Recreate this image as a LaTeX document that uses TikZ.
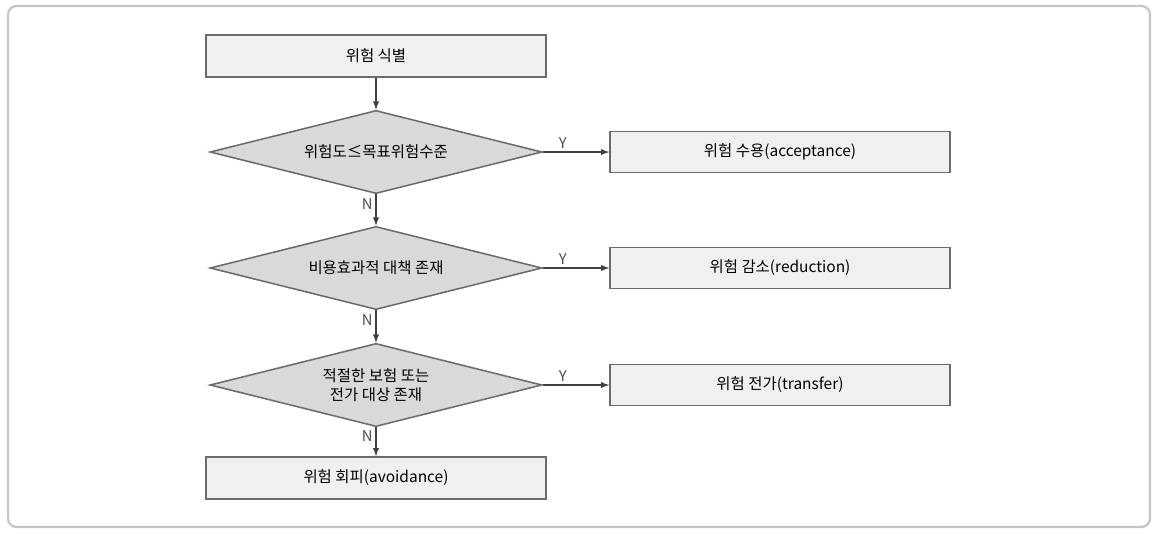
\documentclass[tikz,border=0pt]{standalone}
\usepackage{fontspec}
\setmainfont{Noto Sans CJK KR}
\usetikzlibrary{shapes.geometric,arrows}

\begin{document}
\begin{tikzpicture}
      \tikzset{
        node distance=2.4cm,
        every node/.style={font=\fontsize{11}{13.5}\selectfont},
        procbox/.style={rectangle,draw=gray!85!black,line width=1.1pt,fill=gray!12,
          minimum width=8.5cm,minimum height=1.05cm,inner sep=0pt},
        decision/.style={diamond,aspect=4,draw=gray!85!black,line width=1.1pt,fill=gray!30,
          minimum width=8.3cm,minimum height=2.08cm,inner sep=0pt,align=center},
        flow/.style={-latex,line width=1pt,draw=black!75},
        yn/.style={font=\fontsize{10.5}{12}\selectfont,text=black!70,inner sep=2pt}
      }

      % frame and page size
      \useasboundingbox (0,0) rectangle (28.85,-13.35);
      \draw[gray!45,line width=1.6pt,rounded corners=6pt] (0.2,-0.15) rectangle (28.75,-13.175);

      \node[procbox] (ident) at (9.4,-1.4) {위험 식별};
      \node[decision,below of=ident] (level) {위험도≤목표위험수준};
      \node[decision,below of=level,node distance=2.9cm] (cost) {비용효과적 대책 존재};
      \node[decision,below of=cost,node distance=2.925cm] (insure) {적절한 보험 또는\\전가 대상 존재};
      \node[procbox,below of=insure,node distance=2.325cm] (avoid) {위험 회피(avoidance)};

      \node[procbox,right of=level,node distance=10.1cm,minimum height=1.03cm] (accept) {위험 수용(acceptance)};
      \node[procbox,right of=cost,node distance=10.1cm,minimum height=1.03cm] (reduce) {위험 감소(reduction)};
      \node[procbox,right of=insure,node distance=10.1cm,minimum height=1.03cm] (transfer) {위험 전가(transfer)};

      \draw[flow] (ident) -- (level);
      \draw[flow] (level) -- node[yn,left,pos=0.3] {N} (cost);
      \draw[flow] (cost) -- node[yn,left,pos=0.3] {N} (insure);
      \draw[flow] (insure) -- node[yn,left,pos=0.3] {N} (avoid);
      \draw[flow] (level) -- node[yn,above,pos=0.3] {Y} (accept);
      \draw[flow] (cost) -- node[yn,above,pos=0.3] {Y} (reduce);
      \draw[flow] (insure) -- node[yn,above,pos=0.3] {Y} (transfer);
    \end{tikzpicture}
\end{document}
